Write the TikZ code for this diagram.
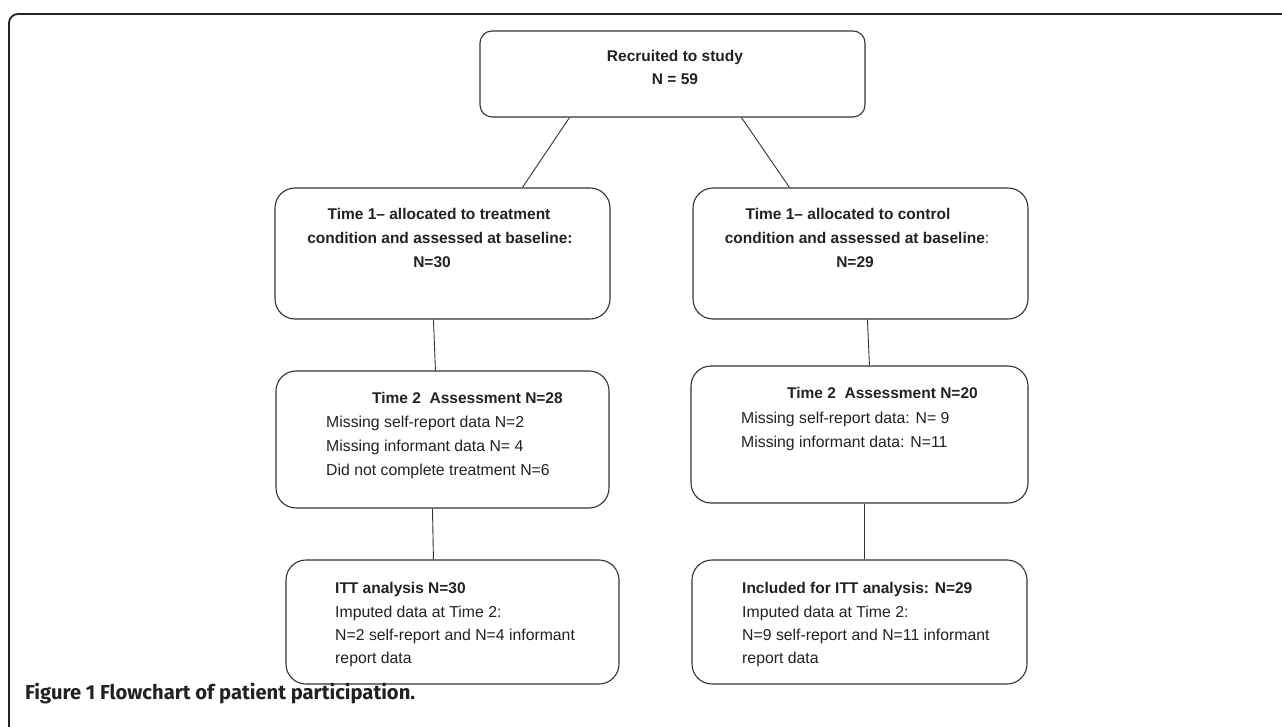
\documentclass[tikz,border=0pt]{standalone}
\usepackage{fontspec}
\setmainfont{Liberation Sans}
\newfontfamily\capfont{Fira Sans}
\usetikzlibrary{calc}
\definecolor{ink}{HTML}{222222}
\definecolor{boxline}{HTML}{333333}
\tikzset{
  box/.style={draw=boxline, line width=1.1pt, rounded corners=20pt, rectangle, inner sep=0pt},
  topbox/.style={box, rounded corners=12pt},
  conn/.style={draw=boxline, line width=0.9pt},
  txt/.style={anchor=base, inner sep=0pt, text=ink, font=\fontsize{15.8}{19}\selectfont},
  txtl/.style={txt, anchor=base west},
  bt/.style={anchor=base, inner sep=0pt, text=ink, font=\fontsize{15.5}{18}\selectfont\bfseries},
  btl/.style={bt, anchor=base west},
}
\begin{document}
\begin{tikzpicture}[x=1pt, y=-1pt]
\useasboundingbox (0,0) rectangle (1282,727);
\begin{scope}
\clip (0,0) rectangle (1282,727);
\fill[white] (0,0) rectangle (1282,727);
\draw[draw=ink, line width=1.8pt, rounded corners=9pt] (9,14) rectangle (1300,760);
\end{scope}

% boxes
\node[topbox, minimum width=385pt, minimum height=86pt] (top) at (672.5,74) {};
\node[box, minimum width=335pt, minimum height=131pt] (t1l) at (442.5,253.5) {};
\node[box, minimum width=335pt, minimum height=131pt] (t1r) at (860.5,253.5) {};
\node[box, minimum width=333pt, minimum height=137pt] (t2l) at (442.5,439.5) {};
\node[box, minimum width=337pt, minimum height=137pt] (t2r) at (859.5,434.5) {};
\node[box, minimum width=333pt, minimum height=124pt] (ittl) at (452.5,622) {};
\node[box, minimum width=335pt, minimum height=124pt] (ittr) at (859.5,622) {};

% connectors
\draw[conn] ($(top.south west)+(90,0)$) -- ($(t1l.north west)+(248,0)$);
\draw[conn] ($(top.south west)+(262,0)$) -- ($(t1r.north west)+(97,0)$);
\draw[conn] ($(t1l.south west)+(159,0)$) -- ($(t2l.north west)+(160,0)$);
\draw[conn] ($(t1r.south west)+(175,0)$) -- ($(t2r.north west)+(179,0)$);
\draw[conn] ($(t2l.south west)+(157,0)$) -- ($(ittl.north west)+(148,0)$);
\draw[conn] ($(t2r.south west)+(174,0)$) -- ($(ittr.north west)+(173,0)$);

% texts
\node[bt] (top1) at (675,62) {Recruited to study};
\node[bt] (top2) at (675,85) {N = 59};

\node[bt] (l11) at (439,220) {Time 1-- allocated to treatment};
\node[bt] (l12) at (440,244) {condition and assessed at baseline:};
\node[bt] (l13) at (432,268) {N=30};

\node[bt] (r11) at (848,220) {Time 1-- allocated to control};
\node[bt] (r12) at (857,244) {condition and assessed at baseline\mdseries:};
\node[bt] (r13) at (855,268) {N=29};

\node[btl] (l21) at (372,403) {Time 2\ \ Assessment N=28};
\node[txtl] (l22) at (326,427) {Missing self-report data N=2};
\node[txtl] (l23) at (326,451) {Missing informant data N= 4};
\node[txtl] (l24) at (326,475) {Did not complete treatment N=6};

\node[btl] (r21) at (787,398) {Time 2\ \ Assessment N=20};
\node[txtl] (r22) at (741,423) {Missing self-report data: N= 9};
\node[txtl] (r23) at (741,447) {Missing informant data: N=11};

\node[btl] (l31) at (335,593) {ITT analysis N=30};
\node[txtl] (l32) at (335,617) {Imputed data at Time 2:};
\node[txtl] (l33) at (335,640) {N=2 self-report and N=4 informant};
\node[txtl] (l34) at (335,663) {report data};

\node[btl] (r31) at (742,593) {Included for ITT analysis: N=29};
\node[txtl] (r32) at (742,617) {Imputed data at Time 2:};
\node[txtl] (r33) at (742,640) {N=9 self-report and N=11 informant};
\node[txtl] (r34) at (742,663) {report data};

\node[anchor=base west, inner sep=0pt, text=ink] (cap) at (25,699) {\resizebox{390pt}{!}{\capfont\bfseries Figure 1 Flowchart of patient participation.}};
\end{tikzpicture}
\end{document}
